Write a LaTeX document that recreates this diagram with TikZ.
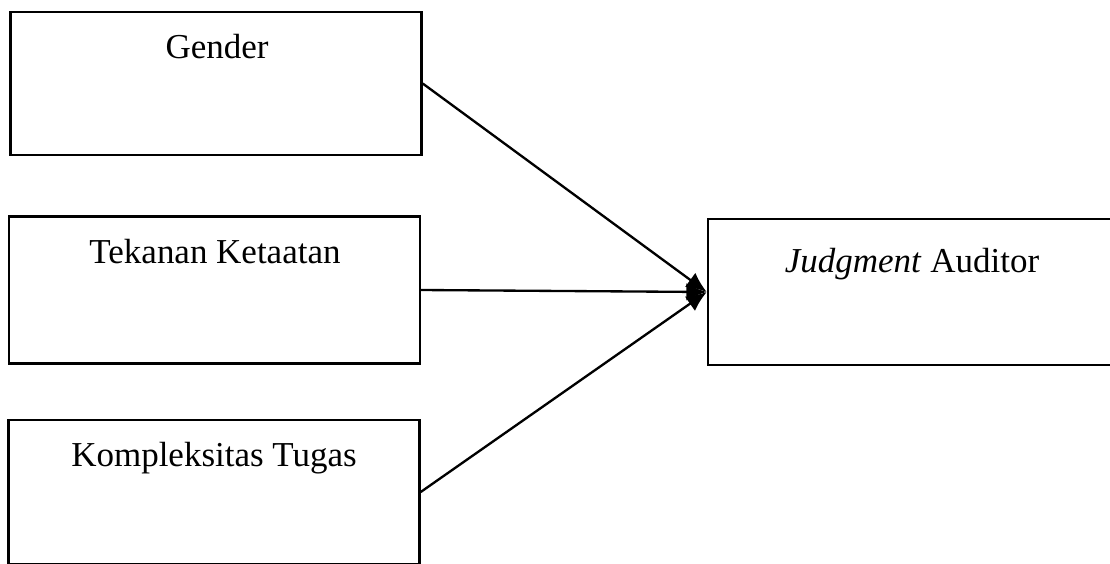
\documentclass[tikz,border=0pt]{standalone}
\usepackage{fontspec}
\setmainfont{Liberation Serif}
\usetikzlibrary{arrows.meta,positioning}

\begin{document}
\begin{tikzpicture}[
            x=0.343pt,y=-0.343pt,
            box/.style={draw,rectangle,line width=0.8pt,minimum width=141pt,minimum height=49pt,inner sep=0},
            lab/.style={font=\fontsize{12}{14}\selectfont,inner sep=0},
            link/.style={draw,-{Latex[length=7pt,width=6pt]},line width=0.8pt}
          ]
          \useasboundingbox (0,0) rectangle (1110,563);

          %variables
          \node[box] (gender) at (216,83.5) {};
          \node[box,minimum height=50.4pt] (tekanan) at (214.5,290) {};
          \node[box,minimum height=49.4pt] (kompleks) at (214,492) {};
          \node[box,minimum width=140pt,minimum height=50pt] (judgment) at (912,292) {};

          %labels
          \node[lab] (genderlab) at (217,47) {Gender};
          \node[lab] (tekananlab) at (215,252) {Tekanan Ketaatan};
          \node[lab] (kompleksab) at (214,458) {Kompleksitas Tugas};
          \node[lab] (judgmentlab) at (912,264) {\textit{Judgment} Auditor};

          %arrows
          \path
          (gender.east) edge[link] (judgment.west)
          (tekanan.east) edge[link] (judgment.west)
          (kompleks.east) edge[link] (judgment.west)
          ;

      \end{tikzpicture}
\end{document}
